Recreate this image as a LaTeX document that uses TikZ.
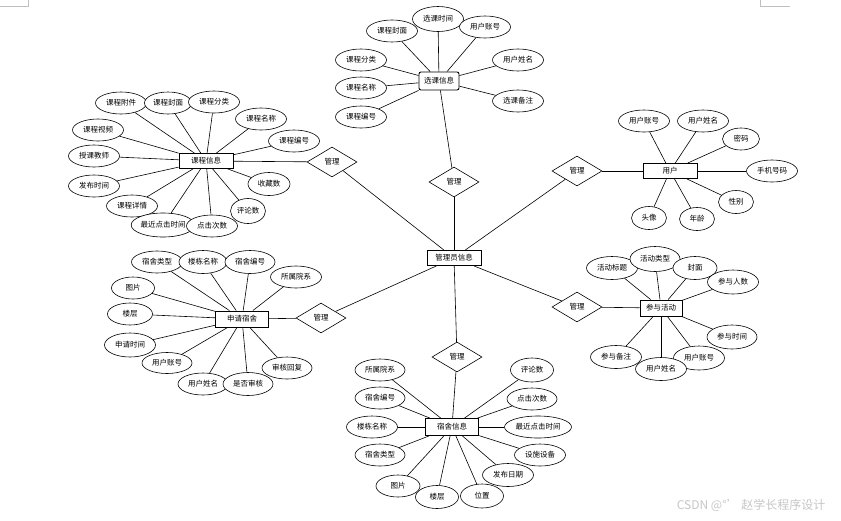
\documentclass[tikz,border=0pt]{standalone}
\usepackage{fontspec}
\setmainfont{Noto Sans CJK SC}
\usetikzlibrary{shapes.geometric}

\begin{document}
\begin{tikzpicture}[
  x=1pt, y=-1pt,
  font=\fontsize{7.5}{8}\selectfont,
  ent/.style={draw, line width=0.9pt, minimum width=54pt, minimum height=15pt,
              inner sep=1pt, fill=white},
  attr/.style={draw, ellipse, line width=0.6pt, minimum width=51pt,
               minimum height=22pt, inner sep=0pt, fill=white},
  rel/.style={draw, diamond, line width=0.6pt, minimum width=50pt,
              minimum height=30pt, inner sep=0pt, fill=white},
  lnk/.style={line width=0.6pt}
]
\useasboundingbox (0,0) rectangle (841,520);
% --- page corner marks ---------------------------------------------------
\draw[gray!50, line width=0.6pt] (0,6) -- (28,6) -- (28,0);
\draw[gray!50, line width=0.6pt] (760,0) -- (760,6) -- (790,6);
% --- centre --------------------------------------------------------------
\node[ent] (adm) at (454,258) {管理员信息};
\node[rel] (r1) at (454,182) {管理};
\node[rel] (r2) at (332,162) {管理};
\node[rel] (r3) at (577,171) {管理};
\node[rel] (r4) at (321,318) {管理};
\node[rel] (r5) at (577,307) {管理};
\node[rel] (r6) at (457,357) {管理};
% --- course selection (top) ----------------------------------------------
\node[ent, rounded corners=2pt, minimum width=40pt, minimum height=18pt] (sel) at (439,81) {选课信息};
\node[attr] (s1) at (392,31)  {课程封面};
\node[attr, minimum height=25pt] (s2) at (438,19) {选课时间};
\node[attr] (s3) at (485,27)  {用户账号};
\node[attr] (s4) at (361,60)  {课程分类};
\node[attr] (s5) at (361,88)  {课程名称};
\node[attr] (s6) at (361,117) {课程编号};
\node[attr] (s7) at (518,60)  {用户姓名};
\node[attr] (s8) at (518,101) {选课备注};
% --- course (top left) ---------------------------------------------------
\node[ent] (crs) at (206,161) {课程信息};
\node[attr] (c1)  at (121,103) {课程附件};
\node[attr, minimum width=47pt] (c2) at (168,103) {课程封面};
\node[attr] (c3)  at (214,102) {课程分类};
\node[attr] (c4)  at (261,119) {课程名称};
\node[attr] (c5)  at (294,141) {课程编号};
\node[attr] (c6)  at (98,130)  {课程视频};
\node[attr] (c7)  at (94,156)  {授课教师};
\node[attr] (c8)  at (94,186)  {发布时间};
\node[attr] (c9)  at (132,206) {课程详情};
\node[attr, minimum width=57pt, minimum height=24pt] (c10) at (163,225) {最近点击时间};
\node[attr, minimum height=22pt] (c11) at (212,226) {点击次数};
\node[attr, minimum width=35pt, minimum height=25pt] (c12) at (248,211) {评论数};
\node[attr, minimum width=42pt, minimum height=23pt] (c13) at (269,184) {收藏数};
% --- user (right) --------------------------------------------------------
\node[ent] (usr) at (670,171) {用户};
\node[attr] (u1) at (644,121) {用户账号};
\node[attr] (u2) at (703,121) {用户姓名};
\node[attr, minimum width=37pt] (u3) at (741,139) {密码};
\node[attr] (u4) at (772,171) {手机号码};
\node[attr, minimum width=35pt, minimum height=23pt] (u5) at (736,202) {性别};
\node[attr, minimum width=35pt, minimum height=23pt] (u6) at (697,219) {年龄};
\node[attr, minimum width=35pt, minimum height=23pt] (u7) at (649,218) {头像};
% --- dorm application (bottom left) --------------------------------------
\node[ent, minimum width=53pt, minimum height=16pt] (app) at (242,319) {申请宿舍};
\node[attr] (a1)  at (157,262) {宿舍类型};
\node[attr, minimum width=48pt, minimum height=23pt] (a2) at (203,262) {楼栋名称};
\node[attr, minimum width=50pt, minimum height=23pt] (a3) at (250,262) {宿舍编号};
\node[attr] (a4)  at (296,277) {所属院系};
\node[attr, minimum width=43pt] (a5)  at (133,288) {图片};
\node[attr, minimum width=45pt] (a6)  at (130,314) {楼层};
\node[attr, minimum height=24pt] (a7)  at (130,345) {申请时间};
\node[attr, minimum width=50pt, minimum height=21pt] (a8) at (167,363) {用户账号};
\node[attr, minimum width=50pt] (a9)  at (203,384) {用户姓名};
\node[attr, minimum width=50pt, minimum height=23pt] (a10) at (248,384) {是否审核};
\node[attr, minimum width=50pt] (a11) at (287,368) {审核回复};
% --- activity (bottom right) ---------------------------------------------
\node[ent, minimum width=42pt, minimum height=16pt] (act) at (661,308) {参与活动};
\node[attr, minimum height=23pt] (t1) at (612,268) {活动标题};
\node[attr, minimum width=50pt, minimum height=25pt] (t2) at (655,259) {活动类型};
\node[attr, minimum width=44pt, minimum height=23pt] (t3) at (695,268) {封面};
\node[attr, minimum height=24pt] (t4) at (733,282) {参与人数};
\node[attr, minimum width=50pt, minimum height=24pt] (t5) at (732,337) {参与时间};
\node[attr, minimum height=24pt] (t6) at (699,358) {用户账号};
\node[attr, minimum height=23pt] (t8) at (616,357) {参与备注};
\node[attr, minimum height=23pt] (t7) at (661,369) {用户姓名};
% --- dorm (bottom) -------------------------------------------------------
\node[ent, minimum width=53pt, minimum height=17pt] (dorm) at (452,427) {宿舍信息};
\node[attr, minimum width=50pt] (d1) at (380,370) {所属院系};
\node[attr, minimum width=50pt] (d2) at (380,398) {宿舍编号};
\node[attr] (d3) at (372,427) {楼栋名称};
\node[attr, minimum width=50pt] (d4) at (380,455) {宿舍类型};
\node[attr, minimum width=44pt] (d5) at (398,486) {图片};
\node[attr, minimum width=43pt, minimum height=23pt] (d6) at (437,497) {楼层};
\node[attr, minimum width=43pt, minimum height=24pt] (d7) at (482,496) {位置};
\node[attr, minimum height=23pt] (d8) at (508,475) {发布日期};
\node[attr] (d9) at (540,455) {设施设备};
\node[attr, minimum width=67pt] (d10) at (538,427) {最近点击时间};
\node[attr, minimum width=50pt] (d11) at (532,399) {点击次数};
\node[attr, minimum width=43pt, minimum height=24pt] (d12) at (532,370) {评论数};
% --- connectors ----------------------------------------------------------
\foreach \r/\e in {r1/sel, r2/crs, r3/usr, r4/app, r5/act, r6/dorm} {
  \draw[lnk] (adm) -- (\r);
  \draw[lnk] (\r) -- (\e);
}
\foreach \a in {s1,s2,s3,s4,s5,s6,s7,s8}
  \draw[lnk] (sel) -- (\a);
\foreach \a in {c1,c2,c3,c4,c5,c6,c7,c8,c9,c10,c11,c12,c13}
  \draw[lnk] (crs) -- (\a);
\foreach \a in {u1,u2,u3,u4,u5,u6,u7}
  \draw[lnk] (usr) -- (\a);
\foreach \a in {a1,a2,a3,a4,a5,a6,a7,a8,a9,a10,a11}
  \draw[lnk] (app) -- (\a);
\foreach \a in {t1,t2,t3,t4,t5,t6,t7,t8}
  \draw[lnk] (act) -- (\a);
\foreach \a in {d1,d2,d3,d4,d5,d6,d7,d8,d9,d10,d11,d12}
  \draw[lnk] (dorm) -- (\a);
% --- watermark -----------------------------------------------------------
\node[gray!45, font=\fontsize{12}{14}\selectfont, anchor=east] (wm) at (829,505) {CSDN @°' 赵学长程序设计};
\end{tikzpicture}
\end{document}
